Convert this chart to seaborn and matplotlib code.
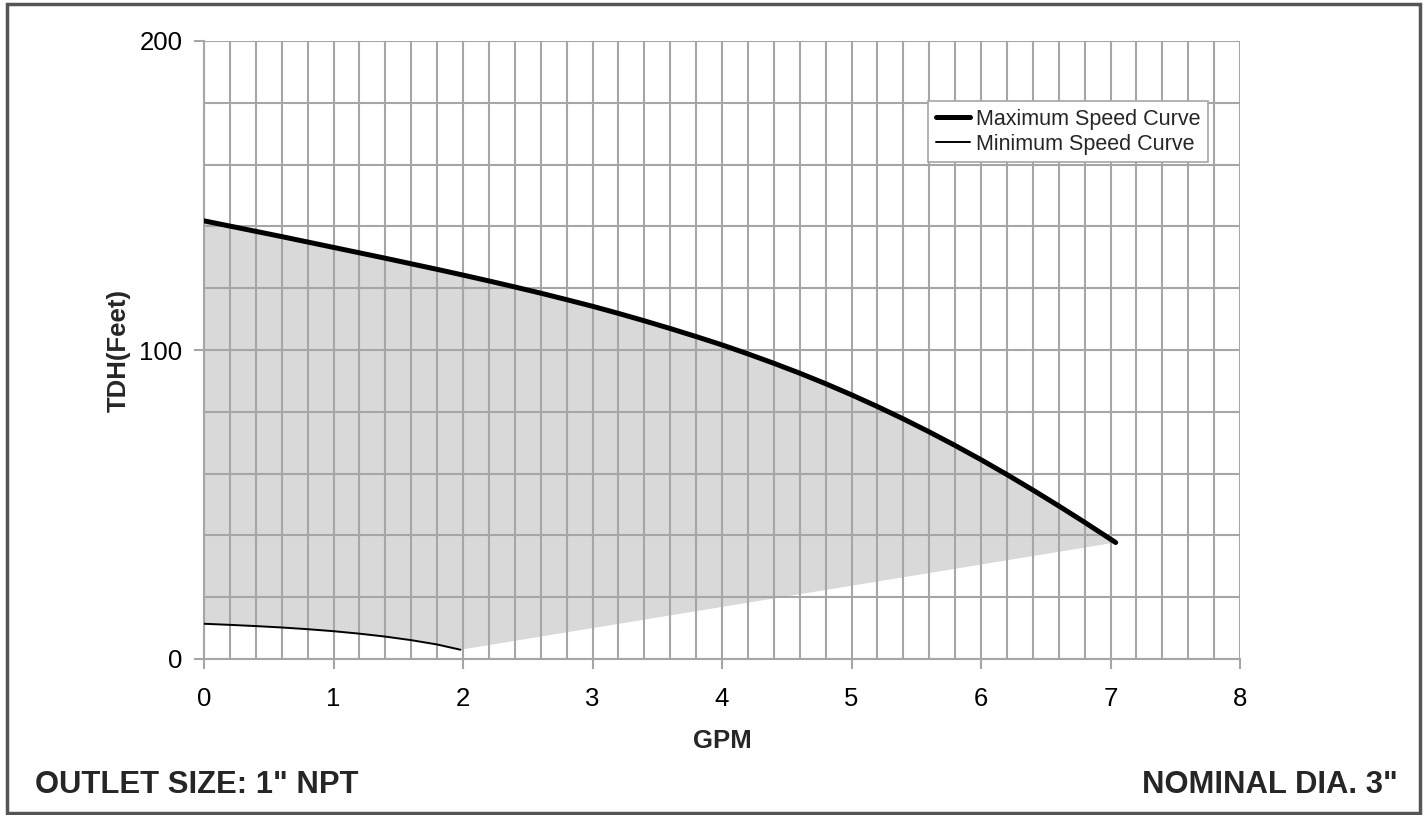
import matplotlib
matplotlib.use("Agg")
import matplotlib.pyplot as plt
import seaborn as sns
import numpy as np
import pandas as pd
from matplotlib.patches import Rectangle
from matplotlib.ticker import MultipleLocator

# ---- data ----
max_gpm = [0.0, 0.2, 0.4, 0.6, 0.8, 1.0, 1.2, 1.4, 1.6, 1.8, 2.0, 2.2, 2.4, 2.6, 2.8,
           3.0, 3.2, 3.4, 3.6, 3.8, 4.0, 4.2, 4.4, 4.6, 4.8, 5.0, 5.2, 5.4, 5.6, 5.8,
           6.0, 6.2, 6.4, 6.6, 6.8, 7.04]
max_tdh = [141.8, 140.1, 138.4, 136.7, 134.95, 133.2, 131.45, 129.7, 127.9, 126.1,
           124.25, 122.35, 120.4, 118.4, 116.3, 114.15, 111.85, 109.45, 106.95, 104.35,
           101.65, 98.75, 95.7, 92.5, 89.1, 85.5, 81.7, 77.7, 73.5, 69.1,
           64.5, 59.7, 54.7, 49.55, 44.25, 37.7]
min_gpm = [0.0, 0.2, 0.4, 0.6, 0.8, 1.0, 1.2, 1.4, 1.6, 1.8, 1.98]
min_tdh = [11.4, 11.05, 10.65, 10.2, 9.65, 9.0, 8.2, 7.25, 6.1, 4.7, 3.0]
x_ticks = [0, 1, 2, 3, 4, 5, 6, 7, 8]
y_ticks = [0, 100, 200]

sns.set_theme(style="white")
plt.rcParams['font.family'] = ['Liberation Sans', 'DejaVu Sans']

W, H = 1423, 815
fig = plt.figure(figsize=(W / 100, H / 100), dpi=100)
ax = fig.add_axes([204 / W, 1 - 659 / H, (1240 - 204) / W, (659 - 41) / H])

grid_c = "#a6a6a6"

# shaded operating region
poly_x = list(max_gpm) + list(min_gpm[::-1])
poly_y = list(max_tdh) + list(min_tdh[::-1])
ax.fill(poly_x, poly_y, color="#d9d9d9", lw=0, zorder=0.3)

df_max = pd.DataFrame({"GPM": max_gpm, "TDH": max_tdh})
df_min = pd.DataFrame({"GPM": min_gpm, "TDH": min_tdh})
sns.lineplot(data=df_max, x="GPM", y="TDH", ax=ax, color="black", lw=3.6,
             label="Maximum Speed Curve", zorder=3, solid_capstyle="round",
             solid_joinstyle="round")
sns.lineplot(data=df_min, x="GPM", y="TDH", ax=ax, color="black", lw=1.4,
             label="Minimum Speed Curve", zorder=3, solid_joinstyle="round")

ax.set_xlim(0, 8)
ax.set_ylim(0, 200)
ax.set_xticks(x_ticks)
ax.set_yticks(y_ticks)
ax.xaxis.set_minor_locator(MultipleLocator(0.2))
ax.yaxis.set_minor_locator(MultipleLocator(20))
ax.set_axisbelow(True)
ax.grid(True, which="both", color=grid_c, lw=1.5)
ax.tick_params(axis="both", which="major", length=7.5, width=1.5, color=grid_c,
               labelsize=18.5, labelcolor="black")
ax.tick_params(axis="x", which="major", pad=12.5)
ax.tick_params(axis="y", which="major", pad=8)
ax.tick_params(axis="both", which="minor", length=0)
ax.tick_params(axis="x", bottom=True)
ax.tick_params(axis="y", left=True)

for s in ["top", "right"]:
    ax.spines[s].set_visible(False)
for s in ["left", "bottom"]:
    ax.spines[s].set_color(grid_c)
    ax.spines[s].set_linewidth(1.5)

ax.set_xlabel("GPM", fontsize=18.5, fontweight="bold", labelpad=13)
ax.set_ylabel("TDH(Feet)", fontsize=18.5, fontweight="bold", labelpad=6)

leg = ax.legend(loc="upper left", bbox_to_anchor=((928 - 204) / (1240 - 204), (659 - 101) / (659 - 41)),
                fontsize=15.5, frameon=True, fancybox=False, framealpha=1,
                edgecolor=grid_c, handlelength=1.6, handletextpad=0.3,
                borderpad=0.35, labelspacing=0.2, borderaxespad=0)
leg.get_frame().set_linewidth(1.2)

fig.text(35 / W, 1 - 793 / H, "OUTLET SIZE: 1\" NPT", fontsize=22.3, fontweight="bold",
         ha="left", va="baseline")
fig.text(1398 / W, 1 - 793 / H, "NOMINAL DIA. 3\"", fontsize=22.3, fontweight="bold",
         ha="right", va="baseline")

fig.patches.append(Rectangle((7 / W, 2 / H), (1420 - 7) / W, (813 - 4) / H,
                             transform=fig.transFigure, fill=False,
                             edgecolor="#555555", lw=2.5))

fig.savefig("out.png", dpi=100)
